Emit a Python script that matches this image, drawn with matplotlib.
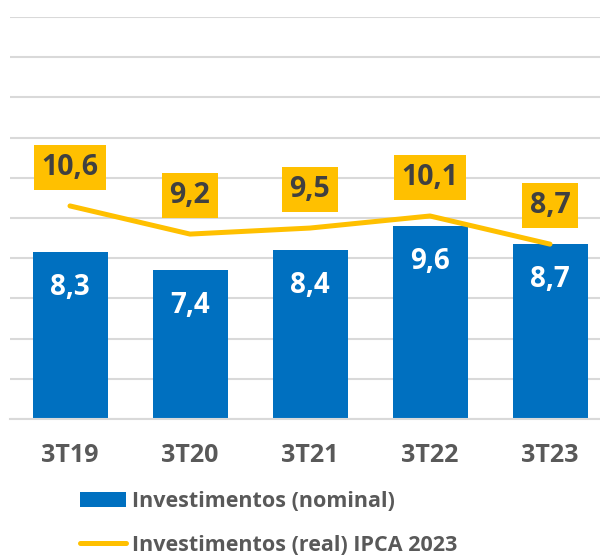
import numpy as np
import matplotlib.pyplot as plt
from matplotlib.patches import Patch
from matplotlib.lines import Line2D

plt.rcParams['font.family'] = ['Open Sans', 'DejaVu Sans']

categories = ['3T19', '3T20', '3T21', '3T22', '3T23']
nominal = [8.3, 7.4, 8.4, 9.6, 8.7]
real = [10.6, 9.2, 9.5, 10.1, 8.7]

blue = '#0070C0'
gold = '#FFC000'

fig = plt.figure(figsize=(6, 5.56), dpi=100)
ax = fig.add_axes([10 / 600, 137 / 556, 1.0, 402 / 556])

x = np.arange(len(categories))
ax.bar(x, nominal, width=0.625, color=blue, zorder=2)
ax.plot(x, real, color=gold, linewidth=3.6, solid_capstyle='round',
        solid_joinstyle='round', zorder=3)

for xi, v in zip(x, nominal):
    ax.annotate('{:.1f}'.format(v).replace('.', ','), (xi, v),
                xytext=(0, -25.5), textcoords='offset points',
                ha='center', va='center', fontsize=20,
                fontweight='bold', color='white', zorder=4)

for xi, v in zip(x, real):
    ax.annotate('{:.1f}'.format(v).replace('.', ','), (xi, v),
                xytext=(0, 28), textcoords='offset points',
                ha='center', va='center', fontsize=20.5,
                fontweight='bold', color='#404040', zorder=5,
                bbox=dict(boxstyle='square,pad=0.28', fc=gold, ec='none'))

ax.set_xlim(-0.5, 4.5)
ax.set_ylim(0, 20)
ax.set_yticks(np.arange(0, 21, 2))
ax.yaxis.grid(True, color='#D9D9D9', linewidth=1.5, zorder=0)
ax.set_axisbelow(True)
ax.tick_params(axis='y', left=False, labelleft=False)
ax.tick_params(axis='x', length=0, pad=17)
ax.set_xticks(x)
ax.set_xticklabels(categories, fontsize=18, fontweight='bold', color='#595959')
for s in ['top', 'right', 'left']:
    ax.spines[s].set_visible(False)
ax.spines['bottom'].set_color('#D9D9D9')
ax.spines['bottom'].set_linewidth(1.5)

handles = [Patch(facecolor=blue, edgecolor='none'),
           Line2D([0], [0], color=gold, linewidth=3.6, solid_capstyle='round')]
labels = ['Investimentos (nominal)', 'Investimentos (real) IPCA 2023']
leg = fig.legend(handles, labels, loc='lower left',
                 bbox_to_anchor=(76 / 600, -4 / 556), frameon=False,
                 prop={'size': 15.5, 'weight': 'bold'},
                 handlelength=2.1, handleheight=0.7, handletextpad=0.28,
                 labelspacing=1.05, borderpad=0.2, borderaxespad=0)
for t in leg.get_texts():
    t.set_color('#595959')

fig.savefig('out.png', dpi=100)
